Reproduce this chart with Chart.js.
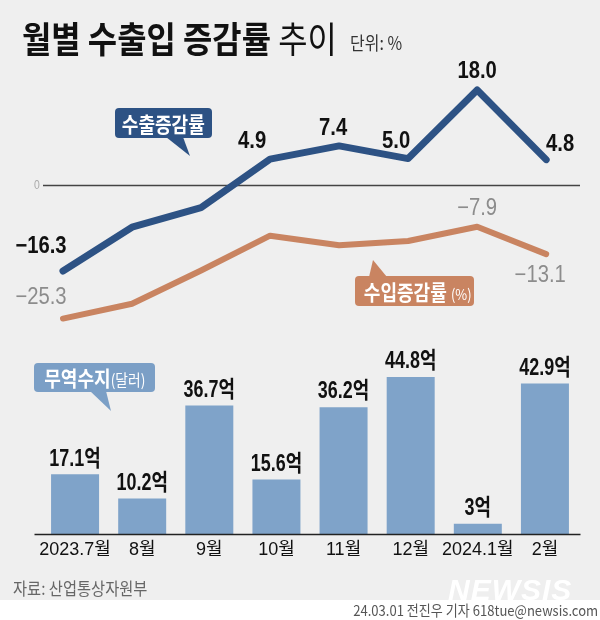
<!DOCTYPE html>
<html><head><meta charset="utf-8">
<script src="https://cdn.jsdelivr.net/npm/chart.js@4.4.1/dist/chart.umd.min.js"></script>
<style>
html,body{margin:0;padding:0;}
body{width:600px;height:620px;background:#efefef;position:relative;overflow:hidden;font-family:"Noto Sans CJK KR","Noto Sans",sans-serif;}
canvas{position:absolute;left:0;}
#c1{top:0;}
#c2{top:340px;}
.t{position:absolute;white-space:nowrap;transform-origin:left center;}
#title{left:22px;top:16px;font-size:36px;line-height:42px;font-weight:700;color:#111;transform:scaleX(0.885);}
#title .reg{font-weight:400;}
#title .unit{font-size:18px;font-weight:400;color:#333;margin-left:15px;vertical-align:3px;}
.box{position:absolute;border-radius:4px;color:#fff;font-weight:700;font-size:21px;line-height:30px;text-align:center;white-space:nowrap;}
.box span{display:inline-block;transform:scaleX(0.86);transform-origin:center;}
.tail{position:absolute;}
#src{left:13px;top:576px;font-size:17px;line-height:24px;color:#666;transform:scaleX(0.9);}
#strip{position:absolute;left:0;top:600px;width:600px;height:20px;background:#fff;}
#credit{position:absolute;right:2px;top:600px;font-size:14.5px;line-height:20px;color:#555;white-space:nowrap;transform:scaleX(0.9);transform-origin:right center;}
#wm{position:absolute;left:448px;top:573px;font-family:"Liberation Sans",Arial,sans-serif;font-style:italic;font-weight:700;font-size:30px;line-height:34px;letter-spacing:1px;color:#fff;}
</style></head>
<body>
<canvas id="c1" width="600" height="340"></canvas>
<canvas id="c2" width="600" height="226"></canvas>

<div id="title" class="t">월별 수출입 증감률 <span class="reg">추이</span><span class="unit">단위: %</span></div>

<svg class="tail" style="left:0;top:0" width="600" height="620"><polygon points="166,137 183,137 190,156" fill="#2d5284"/><polygon points="369,277 387,277 373,260" fill="#c98461"/><polygon points="90,391 106,391 111,411" fill="#7b9fc6"/></svg>
<div class="box" style="left:115px;top:108px;width:97px;height:30px;background:#2d5284;"><span>수출증감률</span></div>
<div class="box" style="left:355px;top:276px;width:119px;height:30px;background:#c98461;"><span>수입증감률 <small style="font-size:15px;font-weight:400">(%)</small></span></div>
<div class="box" style="left:34px;top:363px;width:121px;height:29px;line-height:29px;background:#7b9fc6;"><span>무역수지<small style="font-size:16px;font-weight:400">(달러)</small></span></div>

<div id="src" class="t">자료: 산업통상자원부</div>
<div id="wm">NEWSIS</div>
<div id="strip"></div>
<div id="credit">24.03.01 전진우 기자 618tue@newsis.com</div>

<script>
// ---- data ----
const months = ['2023.7월','8월','9월','10월','11월','12월','2024.1월','2월'];
const exportRate = [-16.3, -8.0, -4.3, 4.9, 7.4, 5.0, 18.0, 4.8];
const importRate = [-25.3, -22.5, -16.2, -9.6, -11.4, -10.6, -7.9, -13.1];
const tradeBalance = [17.1, 10.2, 36.7, 15.6, 36.2, 44.8, 3, 42.9];

const NUMFONT = '"Liberation Sans","Noto Sans CJK KR",sans-serif';

function drawText(ctx, txt, x, y, font, color, sx){
  ctx.save();
  ctx.translate(x, y);
  ctx.scale(sx, 1);
  ctx.font = font;
  ctx.fillStyle = color;
  ctx.textAlign = 'center';
  ctx.textBaseline = 'middle';
  ctx.fillText(txt, 0, 0);
  ctx.restore();
}
function fmtRate(v){ return (v < 0 ? '\u2212' : '') + Math.abs(v).toFixed(1); }
function fmtBal(v){ return (Number.isInteger(v) ? String(v) : v.toFixed(1)) + '억'; }

const valueLabels = {
  id: 'valueLabels',
  afterDatasetsDraw(chart, args, opts){
    const ctx = chart.ctx;
    (opts.specs || []).forEach((spec, di) => {
      if (!spec) return;
      const meta = chart.getDatasetMeta(di);
      const ds = chart.data.datasets[di];
      meta.data.forEach((el, i) => {
        const off = spec.offsets[i];
        if (!off) return;
        const raw = ds.data[i];
        const v = (typeof raw === 'object') ? raw.y : raw;
        drawText(ctx, spec.format(v), el.x + off[0], el.y + off[1], spec.font, spec.color, spec.sx);
      });
    });
  }
};

const zeroLine = {
  id: 'zeroLine',
  beforeDatasetsDraw(chart, args, opts){
    const ctx = chart.ctx, a = chart.chartArea;
    const y = Math.round(chart.scales.y.getPixelForValue(0)) + 0.5;
    ctx.save();
    ctx.strokeStyle = opts.color; ctx.lineWidth = opts.width;
    ctx.beginPath(); ctx.moveTo(a.left - opts.extendLeft, y); ctx.lineTo(a.right + opts.extendRight, y); ctx.stroke();
    if (opts.label) drawText(ctx, opts.label, a.left - opts.extendLeft - 6, y, '13px "Liberation Sans",sans-serif', '#aaa', 0.8);
    ctx.restore();
  }
};

// ---- line chart ----
new Chart(document.getElementById('c1'), {
  type: 'line',
  data: {
    datasets: [
      { label: '수출증감률', data: exportRate.map((v,i)=>({x:i,y:v})), borderColor: '#2d5284', borderWidth: 7 },
      { label: '수입증감률', data: importRate.map((v,i)=>({x:i,y:v})), borderColor: '#c98461', borderWidth: 6 }
    ]
  },
  options: {
    responsive: false, animation: false, devicePixelRatio: 1,
    layout: { padding: { left: 44, right: 20, top: 40, bottom: 0 } },
    elements: { point: { radius: 0, hoverRadius: 0 }, line: { tension: 0, borderCapStyle: 'round', borderJoinStyle: 'round', fill: false } },
    scales: {
      x: { type: 'linear', min: -0.275, max: 7.49, display: false },
      y: { min: -29.36, max: 27.46, display: false }
    },
    plugins: {
      legend: { display: false }, tooltip: { enabled: false },
      zeroLine: { color: '#444', width: 1.5, extendLeft: 1, extendRight: 0, label: '0' },
      valueLabels: { specs: [
        { format: fmtRate, font: 'bold 23px ' + NUMFONT, color: '#111', sx: 0.88,
          offsets: [[-22,-24], null, null, [-18,-17], [-6,-17], [-12,-17], [0,-18], [14,-15]] },
        { format: fmtRate, font: '23px ' + NUMFONT, color: '#8c8c8c', sx: 0.88,
          offsets: [[-22,-21], null, null, null, null, null, [0,-18], [-6,22]] }
      ] }
    }
  },
  plugins: [zeroLine, valueLabels]
});

// ---- bar chart ----
const baseLine = {
  id: 'baseLine',
  afterDatasetsDraw(chart, args, opts){
    const ctx = chart.ctx, a = chart.chartArea;
    const y = Math.round(chart.scales.y.getPixelForValue(0)) + 0.5;
    ctx.save();
    ctx.strokeStyle = opts.color; ctx.lineWidth = opts.width;
    ctx.beginPath(); ctx.moveTo(a.left - opts.extendLeft, y); ctx.lineTo(a.right + opts.extendRight, y); ctx.stroke();
    ctx.restore();
  }
};

new Chart(document.getElementById('c2'), {
  type: 'bar',
  data: {
    labels: months,
    datasets: [{ label: '무역수지', data: tradeBalance, backgroundColor: '#7fa3c9', borderWidth: 0,
                 categoryPercentage: 1, barPercentage: 0.715 }]
  },
  options: {
    responsive: false, animation: false, devicePixelRatio: 1,
    layout: { padding: { left: 41.5, right: 21.5, top: 0, bottom: 0 } },
    scales: {
      x: { grid: { display: false, drawTicks: false }, border: { display: false },
           ticks: { color: '#111', padding: 5, maxRotation: 0, autoSkip: false,
                    font: { family: '"Liberation Sans Narrow","Liberation Sans","Noto Sans CJK KR"', size: 18 } } },
      y: { min: 0, max: 55.3, display: false }
    },
    plugins: {
      legend: { display: false }, tooltip: { enabled: false },
      baseLine: { color: '#222', width: 1.5, extendLeft: 7, extendRight: 2 },
      valueLabels: { specs: [
        { format: fmtBal, font: 'bold 23px ' + NUMFONT, color: '#111', sx: 0.78,
          offsets: months.map(()=>[0,-15]) }
      ] }
    }
  },
  plugins: [baseLine, valueLabels]
});
</script>
</body></html>
